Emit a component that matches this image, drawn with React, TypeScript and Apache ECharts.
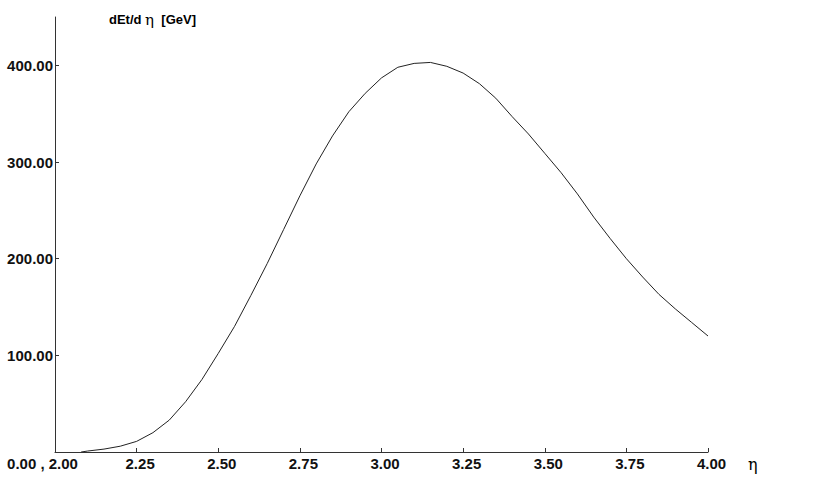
import React, { useEffect, useRef } from "react";
import * as echarts from "echarts";

const etaValues = [2.08, 2.1, 2.15, 2.2, 2.25, 2.3, 2.35, 2.4, 2.45, 2.5, 2.55, 2.6, 2.65, 2.7, 2.75, 2.8, 2.85, 2.9, 2.95, 3.0, 3.05, 3.1, 3.15, 3.2, 3.25, 3.3, 3.35, 3.4, 3.45, 3.5, 3.55, 3.6, 3.65, 3.7, 3.75, 3.8, 3.85, 3.9, 3.95, 4.0];
const dEtValues = [0, 1, 3, 6, 11, 20, 33, 52, 75, 102, 130, 162, 195, 230, 265, 298, 327, 352, 371, 387, 398, 402, 403, 399, 392, 381, 366, 347, 329, 309, 289, 267, 243, 221, 200, 181, 163, 148, 134, 120];
const xTicks = [2.0, 2.25, 2.5, 2.75, 3.0, 3.25, 3.5, 3.75, 4.0];
const yTicks = [100, 200, 300, 400];

const FONT = "'Liberation Sans', Arial, sans-serif";

export default function App() {
  const ref = useRef<HTMLDivElement>(null);
  useEffect(() => {
    if (!ref.current) return;
    const chart = echarts.init(ref.current, undefined, { renderer: "svg" });
    const data = etaValues.map((e, i) => [e, dEtValues[i]]);
    chart.setOption({
      animation: false,
      backgroundColor: "#ffffff",
      title: {
        text: "{b|dEt/d }{e|η}{b|  [GeV]}",
        left: 109,
        top: 12,
        padding: 0,
        textStyle: {
          rich: {
            b: { fontFamily: FONT, fontWeight: "bold", fontSize: 13, color: "#000" },
            e: { fontFamily: "'DejaVu Serif', serif", fontWeight: "normal", fontSize: 15, color: "#000" },
          },
        },
      },
      grid: { left: 55, right: 108, top: 17, bottom: 32, containLabel: false },
      xAxis: {
        type: "value",
        min: 2,
        max: 4,
        interval: 0.25,
        name: "η",
        nameLocation: "end",
        nameGap: 40,
        nameTextStyle: {
          fontFamily: "'DejaVu Serif', serif",
          fontSize: 16,
          color: "#000",
          verticalAlign: "top",
          padding: [4, 0, 0, 0],
        },
        axisLine: { show: true, lineStyle: { color: "#333", width: 1 } },
        axisTick: { show: true, inside: true, length: 4, lineStyle: { color: "#333" }, customValues: xTicks },
        splitLine: { show: false },
        axisLabel: {
          show: true,
          margin: 4,
          customValues: xTicks,
          formatter: (v: number) => (Math.abs(v - 2) < 1e-9 ? "{o|0.00 , 2.00}" : "{n|" + v.toFixed(2) + "}"),
          rich: {
            o: { fontFamily: FONT, fontWeight: "bold", fontSize: 15, color: "#111", padding: [0, 25, 0, 0] },
            n: { fontFamily: FONT, fontWeight: "bold", fontSize: 15, color: "#111", padding: [0, 0, 0, 7] },
          },
        },
      },
      yAxis: {
        type: "value",
        min: 0,
        max: 450,
        interval: 100,
        axisLine: { show: true, lineStyle: { color: "#333", width: 1 } },
        axisTick: { show: true, inside: true, length: 4, lineStyle: { color: "#333" }, customValues: yTicks },
        splitLine: { show: false },
        axisLabel: {
          show: true,
          margin: 2,
          customValues: yTicks,
          formatter: (v: number) => v.toFixed(2),
          fontFamily: FONT,
          fontWeight: "bold",
          fontSize: 15,
          color: "#111",
        },
      },
      series: [
        {
          type: "line",
          data,
          showSymbol: false,
          smooth: false,
          lineStyle: { color: "#222", width: 1 },
        },
      ],
    });
    return () => chart.dispose();
  }, []);
  return <div ref={ref} style={{ width: 816, height: 484, position: "fixed", left: 0, top: 0 }} />;
}
